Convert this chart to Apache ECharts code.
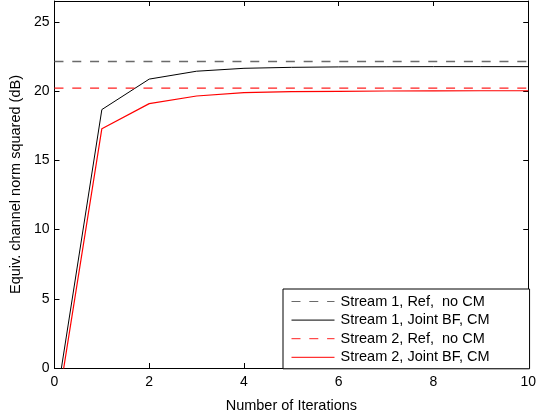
<!DOCTYPE html>
<html>
<head>
<meta charset="utf-8">
<script src="https://cdn.jsdelivr.net/npm/echarts@6/dist/echarts.min.js"></script>
<style>
html,body{margin:0;padding:0;background:#fff;}
#c{width:539px;height:418px;}
</style>
</head>
<body>
<div id="c"></div>
<script>
const iterations = [0, 1, 2, 3, 4, 5, 6, 7, 8, 9, 10];
const seriesNames = ['Stream 1, Ref,  no CM', 'Stream 1, Joint BF, CM', 'Stream 2, Ref,  no CM', 'Stream 2, Joint BF, CM'];
const stream1Ref = [22.13, 22.13, 22.13, 22.13, 22.13, 22.13, 22.13, 22.13, 22.13, 22.13, 22.13];
const stream1Joint = [-3.2, 18.66, 20.86, 21.43, 21.64, 21.71, 21.74, 21.75, 21.76, 21.76, 21.76];
const stream2Ref = [20.21, 20.21, 20.21, 20.21, 20.21, 20.21, 20.21, 20.21, 20.21, 20.21, 20.21];
const stream2Joint = [-4.2, 17.28, 19.09, 19.64, 19.88, 19.95, 19.98, 20.0, 20.01, 20.02, 20.02];
const xTicks = [0, 2, 4, 6, 8, 10];
const yTicks = [0, 5, 10, 15, 20, 25];

const FONT = 'Liberation Sans, Arial, Helvetica, sans-serif';
const chart = echarts.init(document.getElementById('c'), null, {renderer: 'canvas'});

function pairs(arr) { return iterations.map((x, i) => [x, arr[i]]); }

const axisCommon = {
  axisLine: {show: true, onZero: false, lineStyle: {color: '#000', width: 1}},
  axisTick: {show: true, inside: true, length: 5, lineStyle: {color: '#000', width: 1}},
  splitLine: {show: false}
};

chart.setOption({
  animation: false,
  backgroundColor: '#fff',
  grid: {left: 51, right: 8, top: 1, bottom: 46, containLabel: false},
  xAxis: [
    Object.assign({
      type: 'value', min: 0, max: 10, interval: 2, position: 'bottom',
      name: 'Number of Iterations', nameLocation: 'middle', nameGap: 30,
      nameTextStyle: {fontFamily: FONT, fontSize: 14.5, color: '#000'},
      axisLabel: {fontFamily: FONT, fontSize: 14, color: '#000', margin: 7,
        formatter: v => xTicks.includes(v) ? String(v) : ''}
    }, axisCommon),
    Object.assign({
      type: 'value', min: 0, max: 10, interval: 2, position: 'top',
      axisLabel: {show: false}
    }, axisCommon)
  ],
  yAxis: [
    Object.assign({
      type: 'value', min: 0, max: 26.5, interval: 5, position: 'left',
      name: 'Equiv. channel norm squared (dB)', nameLocation: 'middle', nameGap: 30,
      nameTextStyle: {fontFamily: FONT, fontSize: 14.5, color: '#000'},
      axisLabel: {fontFamily: FONT, fontSize: 14, color: '#000', margin: 5,
        formatter: v => yTicks.includes(v) ? String(v) : ''}
    }, axisCommon),
    Object.assign({
      type: 'value', min: 0, max: 26.5, interval: 5, position: 'right',
      axisLabel: {show: false}
    }, axisCommon)
  ],
  legend: {
    orient: 'vertical',
    left: 283, top: 289,
    padding: [5, 40, 4, 8],
    itemWidth: 43, itemHeight: 14, itemGap: 3.6,
    backgroundColor: '#fff',
    borderColor: '#000', borderWidth: 1, borderRadius: 0,
    itemStyle: {opacity: 0},
    lineStyle: {width: 1},
    textStyle: {fontFamily: FONT, fontSize: 14.5, lineHeight: 14, color: '#000', padding: [0, 0, 0, 1]},
    data: seriesNames
  },
  series: [
    {name: seriesNames[0], type: 'line', data: pairs(stream1Ref), showSymbol: false, symbol: 'none',
      lineStyle: {color: '#6a6a6a', width: 1.5, type: [9, 8.8]}, itemStyle: {color: '#6a6a6a'}},
    {name: seriesNames[1], type: 'line', data: pairs(stream1Joint), showSymbol: false, symbol: 'none',
      lineStyle: {color: '#000', width: 1}, itemStyle: {color: '#000'}},
    {name: seriesNames[2], type: 'line', data: pairs(stream2Ref), showSymbol: false, symbol: 'none',
      lineStyle: {color: '#ff2020', width: 1.2, type: [9, 8.8]}, itemStyle: {color: '#ff2020'}},
    {name: seriesNames[3], type: 'line', data: pairs(stream2Joint), showSymbol: false, symbol: 'none',
      lineStyle: {color: '#ff0000', width: 1.2}, itemStyle: {color: '#ff0000'}}
  ]
});
</script>
</body>
</html>
